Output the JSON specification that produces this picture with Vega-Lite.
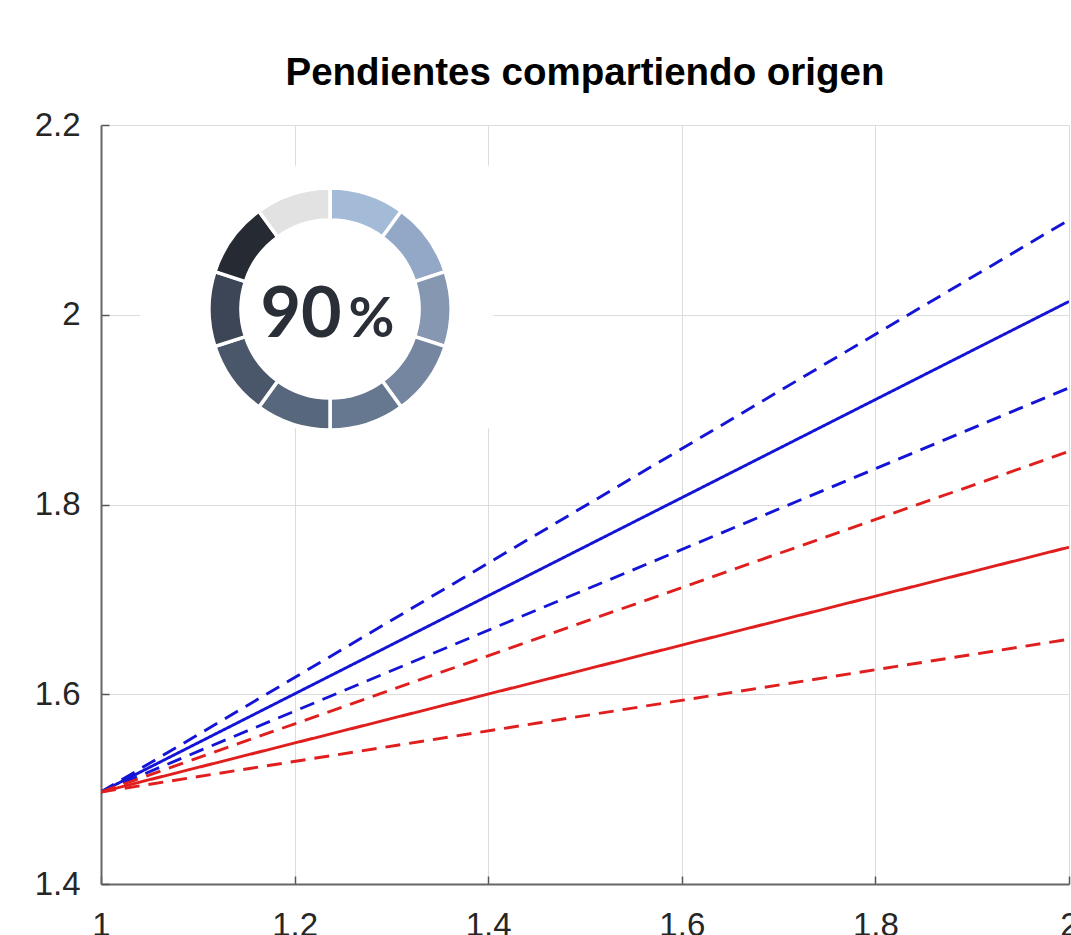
{
  "$schema": "https://vega.github.io/schema/vega-lite/v6.json",
  "width": 968,
  "height": 759,
  "autosize": {"type": "none"},
  "padding": {"left": 101, "top": 125, "right": 2, "bottom": 51},
  "background": "white",
  "title": {
    "text": "Pendientes compartiendo origen",
    "font": "Liberation Sans",
    "fontSize": 38.5,
    "fontWeight": "bold",
    "color": "#000000",
    "anchor": "middle",
    "offset": 16
  },
  "config": {
    "view": {"stroke": null},
    "axis": {
      "labelFont": "Liberation Sans",
      "labelFontSize": 33,
      "labelColor": "#262626",
      "labelFlush": false,
      "domainColor": "#666666",
      "domainWidth": 2,
      "tickColor": "#555555",
      "tickWidth": 1.5,
      "tickSize": -8,
      "gridColor": "#dcdcdc",
      "gridWidth": 1,
      "title": null
    }
  },
  "datasets": {
    "lineas": [
      {"x": 1, "y": 1.497, "serie": "azul_sup", "grupo": "azul", "tipo": "banda"},
      {"x": 2, "y": 2.100, "serie": "azul_sup", "grupo": "azul", "tipo": "banda"},
      {"x": 1, "y": 1.497, "serie": "azul", "grupo": "azul", "tipo": "central"},
      {"x": 2, "y": 2.014, "serie": "azul", "grupo": "azul", "tipo": "central"},
      {"x": 1, "y": 1.497, "serie": "azul_inf", "grupo": "azul", "tipo": "banda"},
      {"x": 2, "y": 1.923, "serie": "azul_inf", "grupo": "azul", "tipo": "banda"},
      {"x": 1, "y": 1.497, "serie": "rojo_sup", "grupo": "rojo", "tipo": "banda"},
      {"x": 2, "y": 1.856, "serie": "rojo_sup", "grupo": "rojo", "tipo": "banda"},
      {"x": 1, "y": 1.497, "serie": "rojo", "grupo": "rojo", "tipo": "central"},
      {"x": 2, "y": 1.755, "serie": "rojo", "grupo": "rojo", "tipo": "central"},
      {"x": 1, "y": 1.497, "serie": "rojo_inf", "grupo": "rojo", "tipo": "banda"},
      {"x": 2, "y": 1.658, "serie": "rojo_inf", "grupo": "rojo", "tipo": "banda"}
    ],
    "caja": [
      {"x1": 1.040, "x2": 1.405, "y1": 1.880, "y2": 2.157}
    ],
    "anillo": [
      {"cx": 1.2366, "cy": 2.006, "seg": "s01", "v": 1},
      {"cx": 1.2366, "cy": 2.006, "seg": "s02", "v": 1},
      {"cx": 1.2366, "cy": 2.006, "seg": "s03", "v": 1},
      {"cx": 1.2366, "cy": 2.006, "seg": "s04", "v": 1},
      {"cx": 1.2366, "cy": 2.006, "seg": "s05", "v": 1},
      {"cx": 1.2366, "cy": 2.006, "seg": "s06", "v": 1},
      {"cx": 1.2366, "cy": 2.006, "seg": "s07", "v": 1},
      {"cx": 1.2366, "cy": 2.006, "seg": "s08", "v": 1},
      {"cx": 1.2366, "cy": 2.006, "seg": "s09", "v": 1},
      {"cx": 1.2366, "cy": 2.006, "seg": "s10", "v": 1}
    ],
    "etiquetas": [
      {"x": 1.2066, "y": 1.9765, "texto": "90", "parte": "numero"},
      {"x": 1.2795, "y": 1.9765, "texto": "%", "parte": "signo"}
    ]
  },
  "resolve": {"scale": {"color": "independent", "theta": "independent"}},
  "layer": [
    {
      "data": {"name": "lineas"},
      "mark": {"type": "line", "strokeWidth": 2.9, "clip": true},
      "encoding": {
        "x": {
          "field": "x", "type": "quantitative",
          "scale": {"domain": [1, 2], "nice": false, "zero": false},
          "axis": {"values": [1, 1.2, 1.4, 1.6, 1.8, 2], "format": "~g", "labelPadding": 33, "grid": true}
        },
        "y": {
          "field": "y", "type": "quantitative",
          "scale": {"domain": [1.4, 2.2], "nice": false, "zero": false},
          "axis": {"values": [1.4, 1.6, 1.8, 2, 2.2], "format": "~g", "labelPadding": 29, "grid": true}
        },
        "detail": {"field": "serie"},
        "color": {
          "field": "grupo", "type": "nominal",
          "scale": {"domain": ["azul", "rojo"], "range": ["#1414d6", "#e01e1e"]},
          "legend": null
        },
        "strokeDash": {
          "field": "tipo", "type": "nominal",
          "scale": {"domain": ["central", "banda"], "range": [[1, 0], [15, 9]]},
          "legend": null
        }
      }
    },
    {
      "data": {"name": "caja"},
      "mark": {"type": "rect", "color": "white"},
      "encoding": {
        "x": {"field": "x1", "type": "quantitative", "scale": {"domain": [1, 2], "nice": false, "zero": false},
          "axis": {"values": [1, 1.2, 1.4, 1.6, 1.8, 2], "format": "~g", "labelPadding": 33, "grid": true}},
        "x2": {"field": "x2"},
        "y": {"field": "y1", "type": "quantitative", "scale": {"domain": [1.4, 2.2], "nice": false, "zero": false},
          "axis": {"values": [1.4, 1.6, 1.8, 2, 2.2], "format": "~g", "labelPadding": 29, "grid": true}},
        "y2": {"field": "y2"}
      }
    },
    {
      "data": {"name": "anillo"},
      "mark": {"type": "arc", "radius": 121, "radius2": 89, "stroke": "white", "strokeWidth": 3.5},
      "encoding": {
        "x": {"field": "cx", "type": "quantitative", "scale": {"domain": [1, 2], "nice": false, "zero": false},
          "axis": {"values": [1, 1.2, 1.4, 1.6, 1.8, 2], "format": "~g", "labelPadding": 33, "grid": true}},
        "y": {"field": "cy", "type": "quantitative", "scale": {"domain": [1.4, 2.2], "nice": false, "zero": false},
          "axis": {"values": [1.4, 1.6, 1.8, 2, 2.2], "format": "~g", "labelPadding": 29, "grid": true}},
        "theta": {"field": "v", "type": "quantitative", "stack": true},
        "order": {"field": "seg", "sort": "ascending"},
        "color": {
          "field": "seg", "type": "nominal",
          "scale": {
            "domain": ["s01", "s02", "s03", "s04", "s05", "s06", "s07", "s08", "s09", "s10"],
            "range": ["#a4bbd7", "#93a8c6", "#8597b1", "#7486a0", "#66788f", "#57677c", "#4a576a", "#3c4656", "#262a32", "#e2e2e2"]
          },
          "legend": null
        }
      }
    },
    {
      "data": {"name": "etiquetas"},
      "transform": [{"filter": "datum.parte == 'numero'"}],
      "mark": {"type": "text", "font": "Lato", "fontWeight": "bold", "fontSize": 70, "align": "center", "baseline": "alphabetic", "color": "#2a2e36"},
      "encoding": {
        "x": {"field": "x", "type": "quantitative", "scale": {"domain": [1, 2], "nice": false, "zero": false},
          "axis": {"values": [1, 1.2, 1.4, 1.6, 1.8, 2], "format": "~g", "labelPadding": 33, "grid": true}},
        "y": {"field": "y", "type": "quantitative", "scale": {"domain": [1.4, 2.2], "nice": false, "zero": false},
          "axis": {"values": [1.4, 1.6, 1.8, 2, 2.2], "format": "~g", "labelPadding": 29, "grid": true}},
        "text": {"field": "texto"}
      }
    },
    {
      "data": {"name": "etiquetas"},
      "transform": [{"filter": "datum.parte == 'signo'"}],
      "mark": {"type": "text", "font": "Lato", "fontWeight": "bold", "fontSize": 56, "align": "center", "baseline": "alphabetic", "color": "#2a2e36"},
      "encoding": {
        "x": {"field": "x", "type": "quantitative", "scale": {"domain": [1, 2], "nice": false, "zero": false},
          "axis": {"values": [1, 1.2, 1.4, 1.6, 1.8, 2], "format": "~g", "labelPadding": 33, "grid": true}},
        "y": {"field": "y", "type": "quantitative", "scale": {"domain": [1.4, 2.2], "nice": false, "zero": false},
          "axis": {"values": [1.4, 1.6, 1.8, 2, 2.2], "format": "~g", "labelPadding": 29, "grid": true}},
        "text": {"field": "texto"}
      }
    }
  ]
}
